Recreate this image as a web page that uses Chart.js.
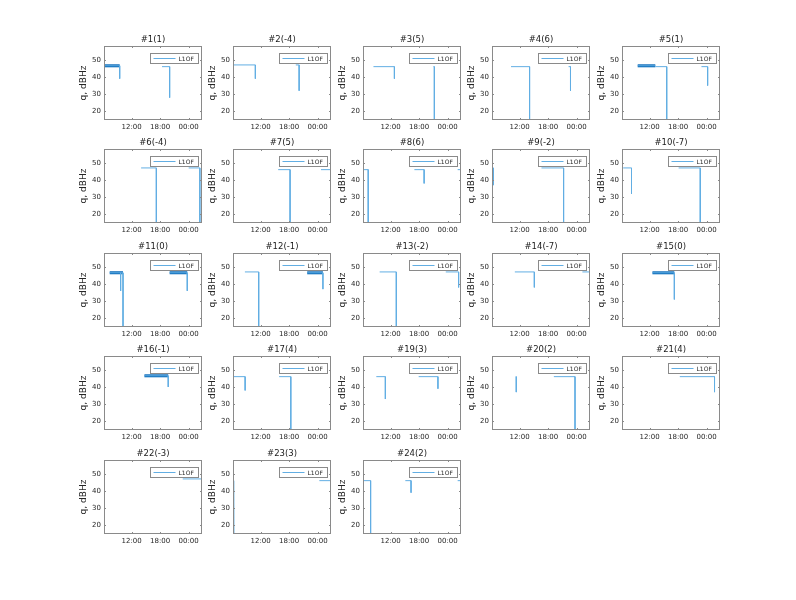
<!DOCTYPE html>
<html>
<head>
<meta charset="utf-8">
<script src="https://cdn.jsdelivr.net/npm/chart.js@4.4.1/dist/chart.umd.min.js"></script>
<style>
  html, body { margin: 0; background: #fff; }
  #fig { position: relative; width: 796px; height: 600px; overflow: hidden; background: #fff; }
  #fig canvas { position: absolute; }
</style>
</head>
<body>
<div id="fig"></div>
<script>
// satellite titles, one per subplot
const satTitles = [
  '#1(1)', '#2(-4)', '#3(5)', '#4(6)', '#5(1)',
  '#6(-4)', '#7(5)', '#8(6)', '#9(-2)', '#10(-7)',
  '#11(0)', '#12(-1)', '#13(-2)', '#14(-7)', '#15(0)',
  '#16(-1)', '#17(4)', '#19(3)', '#20(2)', '#21(4)',
  '#22(-3)', '#23(3)', '#24(2)',
];

// tracking arcs per satellite: [start hour, end hour, level dBHz, last value dBHz (null = none), dense]
const satArcs = [
  [[6.2, 9.5, 46.5, 39, 1], [18.4, 20.0, 46, 28, 0]],
  [[6.2, 10.9, 47, 39, 0], [19.4, 20.1, 47, 32, 0]],
  [[8.4, 12.8, 46, 39, 0], [21.0, 21.2, 46, 5, 0]],
  [[10.2, 14.1, 46, 5, 0], [22.3, 22.7, 46, 32, 0]],
  [[9.5, 13.2, 46.5, null, 1], [13.2, 15.6, 46, 5, 0], [22.9, 24.2, 46, 35, 0]],
  [[14.0, 17.2, 47, 5, 0], [24.0, 26.35, 47, 5, 0]],
  [[15.7, 18.2, 46, 5, 0], [24.7, 26.8, 46, null, 0]],
  [[6.2, 7.3, 46, 5, 0], [17.0, 19.05, 46, 38, 0], [26.1, 26.8, 46, null, 0]],
  [[6.2, 6.5, 47, 37, 0], [16.6, 21.25, 47, 5, 0]],
  [[6.45, 8.2, 47, 32, 0], [18.1, 22.65, 47, 5, 0]],
  [[7.4, 10.2, 46.5, 5, 1], [9.7, 9.7, 46.5, 36, 0], [20.0, 23.7, 46.5, 36, 1]],
  [[8.7, 11.6, 47, 5, 0], [21.8, 25.1, 46.5, 37, 1]],
  [[9.7, 13.2, 47, 5, 0], [23.6, 26.3, 47, 38, 0]],
  [[11.0, 15.1, 47, 38, 0], [25.2, 26.75, 47, 5, 0]],
  [[12.6, 17.2, 46.5, 31, 1]],
  [[14.7, 19.7, 46.5, 40, 1]],
  [[6.2, 8.75, 46, 38, 0], [15.9, 18.35, 46, 5, 0]],
  [[9.0, 10.9, 46, 33, 0], [17.9, 21.95, 46, 39, 0]],
  [[11.2, 11.3, 46, 37, 0], [19.2, 23.65, 46, 5, 0]],
  [[18.35, 25.65, 46, 37, 0]],
  [[22.75, 26.8, 47, null, 0]],
  [[6.3, 6.35, 46, 5, 0], [24.35, 26.8, 46, null, 0]],
  [[6.2, 7.8, 46, 5, 0], [15.1, 16.3, 46, 39, 0], [26.1, 26.8, 46, null, 0]],
];

const tickHours = [12, 18, 24];
const tickLabels = ['12:00', '18:00', '00:00'];
const yTicks = [20, 30, 40, 50];
const seriesName = 'L1OF';

const X_MIN = 6.2, X_MAX = 26.8, Y_MIN = 15, Y_MAX = 58;
const LIGHT = '#62aee3';
const DARK = '#0a6ab8';
const FONT = 'DejaVu Sans';

const PLOT_W = 98, PLOT_H = 74;
const AXIS_W = 52, TITLE_H = 20, AXIS_H = 26, RIGHT_PAD = 12;
const COLS = 5;

function lightPoints(arcs) {
  const pts = [];
  arcs.forEach(([t0, t1, lvl, last]) => {
    pts.push({ x: t0, y: lvl }, { x: t1, y: lvl });
    if (last !== null) pts.push({ x: t1, y: last });
    pts.push({ x: t1, y: null });
  });
  return pts;
}

function densePoints(arcs) {
  const pts = [];
  arcs.filter((a) => a[4]).forEach(([t0, t1, lvl]) => {
    pts.push({ x: t0, y: lvl }, { x: t1, y: lvl }, { x: t1, y: null });
  });
  return pts;
}

// box, inward ticks and the small framed legend, matlab style
const frame = {
  id: 'frame',
  afterDraw(chart) {
    const { ctx, chartArea: a, scales } = chart;
    ctx.save();
    ctx.strokeStyle = '#8a8a8a';
    ctx.lineWidth = 1;
    ctx.strokeRect(a.left + 0.5, a.top + 0.5, a.width - 1, a.height - 1);

    ctx.beginPath();
    tickHours.forEach((v) => {
      const px = Math.round(scales.x.getPixelForValue(v)) + 0.5;
      ctx.moveTo(px, a.bottom); ctx.lineTo(px, a.bottom - 2);
      ctx.moveTo(px, a.top); ctx.lineTo(px, a.top + 2);
    });
    yTicks.forEach((v) => {
      const py = Math.round(scales.y.getPixelForValue(v)) + 0.5;
      ctx.moveTo(a.left, py); ctx.lineTo(a.left + 2, py);
      ctx.moveTo(a.right, py); ctx.lineTo(a.right - 2, py);
    });
    ctx.stroke();

    const lw = 48, lh = 10;
    const lx = Math.round(a.right - lw - 4) + 0.5;
    const ly = Math.round(a.top + 7) + 0.5;
    ctx.fillStyle = '#fff';
    ctx.fillRect(lx, ly, lw, lh);
    ctx.strokeStyle = '#8a8a8a';
    ctx.strokeRect(lx, ly, lw, lh);
    ctx.strokeStyle = LIGHT;
    ctx.beginPath();
    ctx.moveTo(lx + 3, ly + lh / 2);
    ctx.lineTo(lx + 25, ly + lh / 2);
    ctx.stroke();
    ctx.fillStyle = '#262626';
    ctx.font = `6px "${FONT}"`;
    ctx.textBaseline = 'middle';
    ctx.fillText(seriesName, lx + 28, ly + lh / 2 + 0.5);
    ctx.restore();
  },
};

const fig = document.getElementById('fig');

satTitles.forEach((title, i) => {
  const col = i % COLS;
  const row = Math.floor(i / COLS);
  const plotLeft = Math.round(103.5 + col * 129.6);
  const plotTop = Math.round(45.5 + row * 103.6);

  const canvas = document.createElement('canvas');
  canvas.width = AXIS_W + PLOT_W + RIGHT_PAD;
  canvas.height = TITLE_H + PLOT_H + AXIS_H;
  canvas.style.left = (plotLeft - AXIS_W) + 'px';
  canvas.style.top = (plotTop - TITLE_H) + 'px';
  fig.appendChild(canvas);

  const arcs = satArcs[i];

  new Chart(canvas.getContext('2d'), {
    type: 'scatter',
    data: {
      datasets: [
        {
          label: seriesName,
          data: lightPoints(arcs),
          showLine: true,
          spanGaps: false,
          borderColor: LIGHT,
          borderWidth: 1,
          pointRadius: 0,
        },
        {
          label: seriesName + ' dense',
          data: densePoints(arcs),
          showLine: true,
          spanGaps: false,
          borderColor: DARK,
          borderWidth: 3,
          pointRadius: 0,
        },
      ],
    },
    plugins: [frame],
    options: {
      responsive: false,
      devicePixelRatio: 1,
      animation: false,
      layout: { padding: { top: 0, left: 0, bottom: 0, right: RIGHT_PAD } },
      plugins: {
        legend: { display: false },
        tooltip: { enabled: false },
        title: {
          display: true,
          fullSize: false, // centre over the plot box, not the canvas
          text: title,
          color: '#1a1a1a',
          font: { family: FONT, size: 8.5, weight: 'normal', lineHeight: 1.2 },
          padding: { top: 8.8, bottom: 1 },
        },
      },
      scales: {
        x: {
          type: 'linear',
          min: X_MIN,
          max: X_MAX,
          afterBuildTicks: (s) => { s.ticks = tickHours.map((v) => ({ value: v })); },
          afterFit: (s) => { s.height = AXIS_H; },
          grid: { display: false, drawTicks: false },
          border: { display: false },
          ticks: {
            autoSkip: false,
            maxRotation: 0,
            padding: 3,
            color: '#262626',
            font: { family: FONT, size: 7 },
            callback: (v, idx) => tickLabels[idx],
          },
        },
        y: {
          type: 'linear',
          min: Y_MIN,
          max: Y_MAX,
          afterBuildTicks: (s) => { s.ticks = yTicks.map((v) => ({ value: v })); },
          afterFit: (s) => { s.width = AXIS_W; },
          grid: { display: false, drawTicks: false },
          border: { display: false },
          ticks: {
            padding: 3,
            color: '#262626',
            font: { family: FONT, size: 7 },
          },
          title: {
            display: true,
            text: 'q, dBHz',
            color: '#262626',
            font: { family: FONT, size: 9, lineHeight: 1.2 },
            padding: { top: 26.6, bottom: 0 },
          },
        },
      },
    },
  });
});
</script>
</body>
</html>
